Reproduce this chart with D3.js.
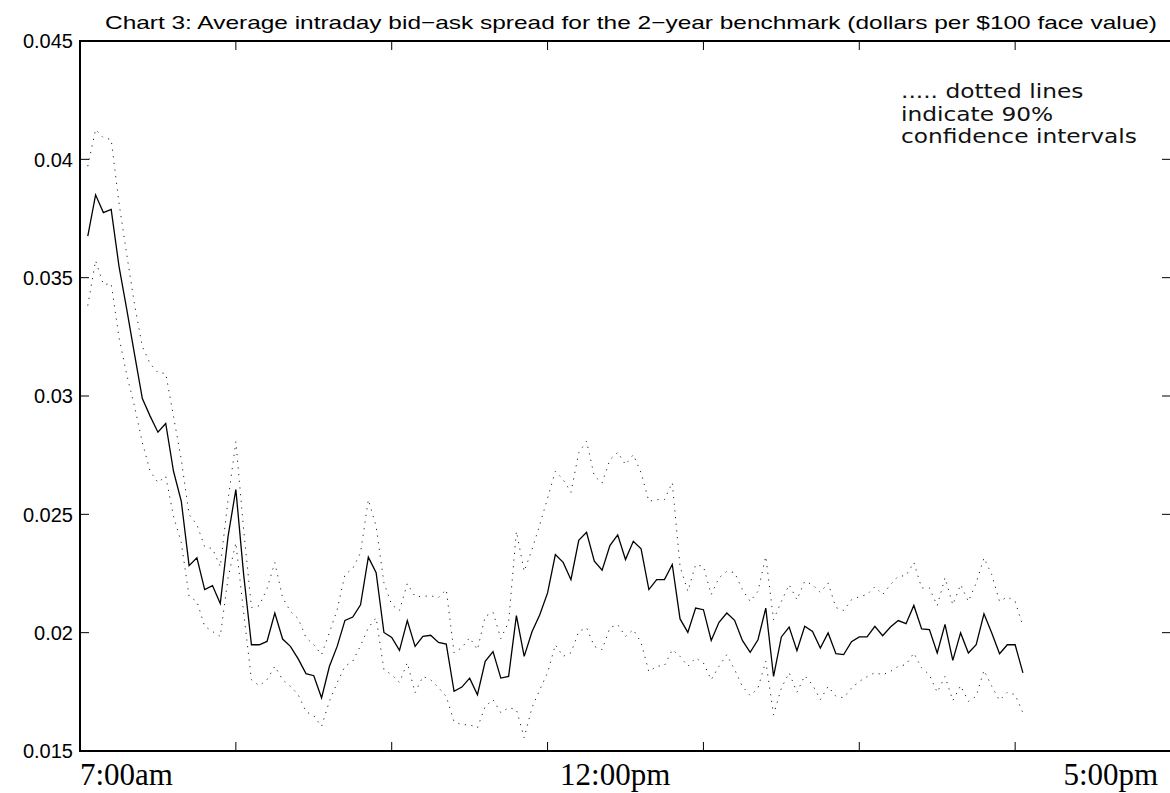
<!DOCTYPE html>
<html>
<head>
<meta charset="utf-8">
<script src="https://cdn.jsdelivr.net/npm/d3@7"></script>
<style>
  body { margin: 0; background: #fff; }
  svg { display: block; }
</style>
</head>
<body>
<svg id="chart" width="1170" height="793"></svg>
<script>

// average spread per 5-minute slot; slot 1 = 7:05am ... slot 121 = 5:05pm
var spreadMean = [
  0.03676, 0.03850, 0.03775, 0.03788, 0.03549, 0.03366, 0.03176, 0.02989, 0.02915, 0.02847,
  0.02884, 0.02682, 0.02555, 0.02283, 0.02316, 0.02182, 0.02199, 0.02123, 0.02407, 0.02605,
  0.02245, 0.01949, 0.01949, 0.01963, 0.02083, 0.01973, 0.01942, 0.01889, 0.01827, 0.01818,
  0.01724, 0.01857, 0.01942, 0.02052, 0.02066, 0.02118, 0.02319, 0.02253, 0.02001, 0.01980,
  0.01925, 0.02051, 0.01942, 0.01984, 0.01989, 0.01959, 0.01952, 0.01752, 0.01770, 0.01808,
  0.01738, 0.01879, 0.01920, 0.01808, 0.01815, 0.02072, 0.01900, 0.02004, 0.02076, 0.02168,
  0.02330, 0.02297, 0.02224, 0.02390, 0.02424, 0.02302, 0.02264, 0.02368, 0.02413, 0.02309,
  0.02386, 0.02354, 0.02182, 0.02224, 0.02224, 0.02288, 0.02058, 0.02001, 0.02104, 0.02097,
  0.01967, 0.02044, 0.02083, 0.02052, 0.01967, 0.01917, 0.01970, 0.02104, 0.01815, 0.01982,
  0.02024, 0.01924, 0.02027, 0.02005, 0.01935, 0.01999, 0.01911, 0.01907, 0.01962, 0.01982,
  0.01982, 0.02027, 0.01987, 0.02024, 0.02051, 0.02038, 0.02115, 0.02016, 0.02013, 0.01914,
  0.02035, 0.01883, 0.01999, 0.01914, 0.01949, 0.02080, 0.01999, 0.01911, 0.01949, 0.01949,
  0.01830
];

// upper 90% confidence bound
var spreadUpper = [
  0.03971, 0.04126, 0.04091, 0.04084, 0.03816, 0.03598, 0.03386, 0.03209, 0.03137, 0.03099,
  0.03095, 0.02914, 0.02731, 0.02499, 0.02456, 0.02363, 0.02355, 0.02279, 0.02562, 0.02807,
  0.02435, 0.02106, 0.02114, 0.02186, 0.02296, 0.02148, 0.02090, 0.02059, 0.01979, 0.01949,
  0.01907, 0.02000, 0.02097, 0.02245, 0.02271, 0.02338, 0.02562, 0.02449, 0.02211, 0.02118,
  0.02094, 0.02207, 0.02153, 0.02153, 0.02156, 0.02148, 0.02182, 0.01915, 0.01937, 0.01979,
  0.01928, 0.02069, 0.02086, 0.01975, 0.02045, 0.02428, 0.02259, 0.02351, 0.02456, 0.02568,
  0.02682, 0.02647, 0.02593, 0.02760, 0.02809, 0.02661, 0.02633, 0.02731, 0.02762, 0.02710,
  0.02752, 0.02676, 0.02555, 0.02562, 0.02562, 0.02634, 0.02280, 0.02175, 0.02287, 0.02280,
  0.02161, 0.02232, 0.02259, 0.02254, 0.02182, 0.02132, 0.02175, 0.02322, 0.02055, 0.02132,
  0.02203, 0.02139, 0.02217, 0.02203, 0.02170, 0.02210, 0.02106, 0.02094, 0.02139, 0.02152,
  0.02161, 0.02194, 0.02161, 0.02203, 0.02238, 0.02241, 0.02297, 0.02189, 0.02189, 0.02114,
  0.02232, 0.02118, 0.02203, 0.02132, 0.02210, 0.02316, 0.02245, 0.02132, 0.02151, 0.02132,
  0.02027
];

// lower 90% confidence bound
var spreadLower = [
  0.03382, 0.03572, 0.03471, 0.03475, 0.03248, 0.03090, 0.02956, 0.02803, 0.02682, 0.02634,
  0.02661, 0.02492, 0.02380, 0.02153, 0.02132, 0.02027, 0.02005, 0.01984, 0.02232, 0.02380,
  0.02085, 0.01801, 0.01776, 0.01801, 0.01858, 0.01801, 0.01773, 0.01738, 0.01666, 0.01649,
  0.01604, 0.01710, 0.01789, 0.01858, 0.01879, 0.01945, 0.02021, 0.02063, 0.01844, 0.01822,
  0.01790, 0.01873, 0.01746, 0.01815, 0.01801, 0.01768, 0.01730, 0.01624, 0.01611, 0.01611,
  0.01598, 0.01689, 0.01717, 0.01662, 0.01683, 0.01675, 0.01556, 0.01683, 0.01759, 0.01831,
  0.01949, 0.01900, 0.01915, 0.02005, 0.02021, 0.01942, 0.01928, 0.02021, 0.02034, 0.01984,
  0.02013, 0.01958, 0.01835, 0.01858, 0.01861, 0.01928, 0.01900, 0.01858, 0.01893, 0.01872,
  0.01801, 0.01858, 0.01907, 0.01844, 0.01773, 0.01734, 0.01766, 0.01879, 0.01653, 0.01766,
  0.01831, 0.01748, 0.01818, 0.01780, 0.01717, 0.01773, 0.01731, 0.01725, 0.01766, 0.01794,
  0.01814, 0.01831, 0.01822, 0.01836, 0.01858, 0.01865, 0.01914, 0.01851, 0.01822, 0.01748,
  0.01815, 0.01713, 0.01776, 0.01710, 0.01731, 0.01841, 0.01773, 0.01714, 0.01748, 0.01738,
  0.01661
];

var yTickValues = [0.015, 0.02, 0.025, 0.03, 0.035, 0.04, 0.045];
var xTickSlots  = [0, 20, 40, 60, 80, 100, 120, 140];
var timeLabels     = ["7:00am", "12:00pm", "5:00pm"];
var timeLabelSlots = [0, 61.6, 126.2];

var titleText  = "Chart 3: Average intraday bid\u2212ask spread for the 2\u2212year benchmark (dollars per $100 face value)";
var noteLines  = ["..... dotted lines", "indicate 90%", "confidence intervals"];

// plot box; the right edge of the frame sits just past the picture edge, as in the original
var margin = { top: 41, right: -1, bottom: 42, left: 80 },
    width  = 1170 - margin.left - margin.right,
    height = 793 - margin.top - margin.bottom;

var svg = d3.select('#chart');

var x = d3.scaleLinear().domain([0, 140]).range([margin.left, margin.left + width]);
var y = d3.scaleLinear().domain([0.015, 0.045]).range([margin.top + height, margin.top]);

var tickLen = 9;

// ======================================
// series
var line = d3.line()
  .x(function(d, i) { return x(i + 1); })
  .y(function(d) { return y(d); });

[spreadUpper, spreadLower].forEach(function(series) {
  svg.append('path')
    .datum(series)
    .attr('d', line)
    .attr('fill', 'none')
    .attr('stroke', '#222')
    .attr('stroke-width', 1)
    .attr('stroke-dasharray', '1.2,5.5');
});

svg.append('path')
  .datum(spreadMean)
  .attr('d', line)
  .attr('fill', 'none')
  .attr('stroke', '#000')
  .attr('stroke-width', 1.3);

// ======================================
// frame and ticks (MATLAB style: ticks pointing inward on all four sides)
var axes = svg.append('g').attr('stroke', '#000').attr('fill', 'none');

axes.selectAll('line.xb')
  .data(xTickSlots)
  .enter().append('line')
  .attr('x1', function(d) { return x(d); })
  .attr('x2', function(d) { return x(d); })
  .attr('y1', y(0.015))
  .attr('y2', y(0.015) - tickLen)
  .attr('stroke-width', 1);

axes.selectAll('line.xt')
  .data(xTickSlots)
  .enter().append('line')
  .attr('x1', function(d) { return x(d); })
  .attr('x2', function(d) { return x(d); })
  .attr('y1', y(0.045))
  .attr('y2', y(0.045) + tickLen)
  .attr('stroke-width', 1);

axes.selectAll('line.yl')
  .data(yTickValues)
  .enter().append('line')
  .attr('x1', x(0))
  .attr('x2', x(0) + tickLen)
  .attr('y1', function(d) { return y(d); })
  .attr('y2', function(d) { return y(d); })
  .attr('stroke-width', 1);

axes.selectAll('line.yr')
  .data(yTickValues)
  .enter().append('line')
  .attr('x1', x(140))
  .attr('x2', x(140) - tickLen)
  .attr('y1', function(d) { return y(d); })
  .attr('y2', function(d) { return y(d); })
  .attr('stroke-width', 1);

axes.append('rect')
  .attr('x', x(0))
  .attr('y', y(0.045))
  .attr('width', x(140) - x(0))
  .attr('height', y(0.015) - y(0.045))
  .attr('stroke-width', 2);

// ======================================
// text
svg.selectAll('text.ylab')
  .data(yTickValues)
  .enter().append('text')
  .attr('class', 'ylab')
  .attr('x', x(0) - 7)
  .attr('y', function(d) { return y(d); })
  .attr('dy', '0.36em')
  .attr('text-anchor', 'end')
  .style('font-family', '"Liberation Sans", Arial, sans-serif')
  .style('font-size', '20px')
  .text(function(d) { return String(+d.toFixed(3)); });

svg.selectAll('text.xlab')
  .data(timeLabels)
  .enter().append('text')
  .attr('class', 'xlab')
  .attr('x', function(d, i) { return x(timeLabelSlots[i]); })
  .attr('y', 785)
  .style('font-family', '"Liberation Serif", "Times New Roman", serif')
  .style('font-size', '31px')
  .text(function(d) { return d; });

// the original title is set wide; stretch it to the same run length
svg.append('text')
  .attr('x', 105)
  .attr('y', 29)
  .attr('textLength', 1052)
  .attr('lengthAdjust', 'spacingAndGlyphs')
  .style('font-family', '"Liberation Sans", Arial, sans-serif')
  .style('font-size', '19px')
  .text(titleText);

var note = svg.append('g')
  .attr('transform', 'translate(901,0)')
  .style('font-family', '"DejaVu Sans", sans-serif')
  .style('font-size', '19px')
  .style('fill', '#111');

var noteText = note.selectAll('text')
  .data(noteLines)
  .enter().append('text')
  .attr('x', 0)
  .attr('y', function(d, i) { return 98 + i * 22.6; })
  .text(function(d) { return d; });

// the original face is wide: stretch the note so its longest line runs 236px
var widest = d3.max(noteText.nodes(), function(n) { return n.getComputedTextLength(); });
note.attr('transform', 'translate(901,0) scale(' + (236 / widest) + ',1)');

</script>
</body>
</html>
